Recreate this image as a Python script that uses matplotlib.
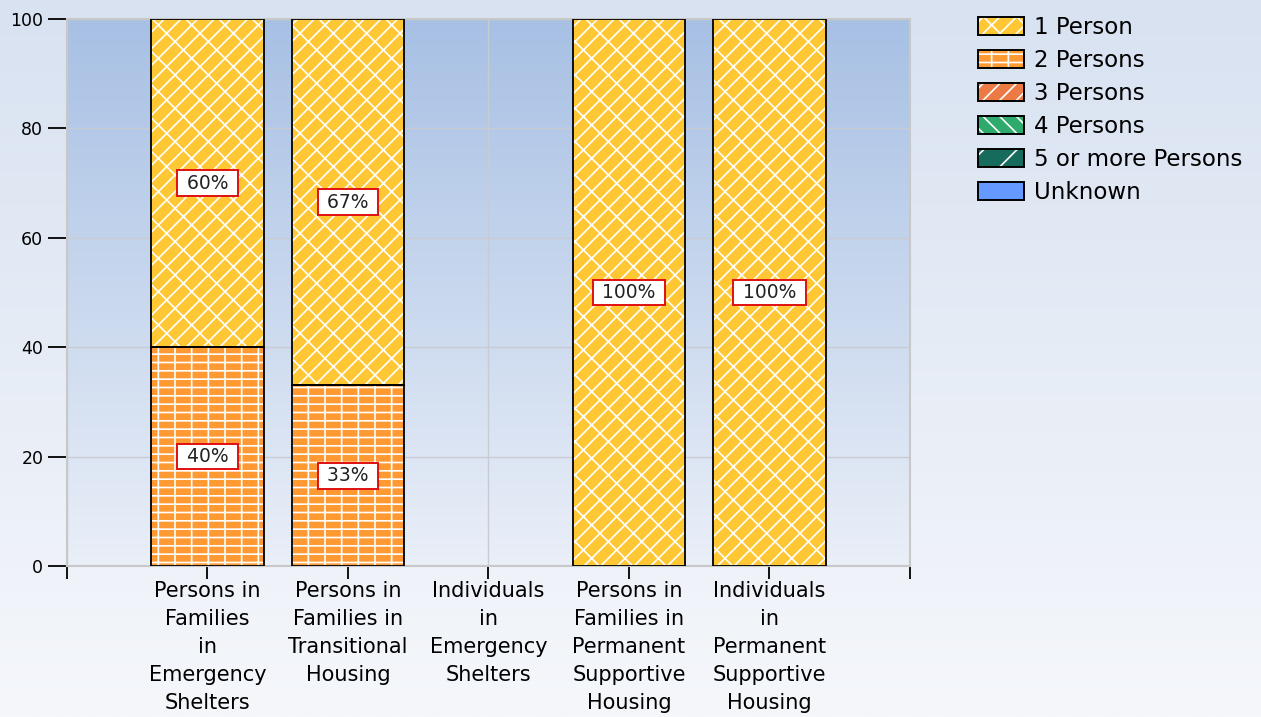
import matplotlib
matplotlib.use("Agg")
import matplotlib.pyplot as plt
import numpy as np
from matplotlib.patches import Patch
from matplotlib.colors import LinearSegmentedColormap

categories = [
    "Persons in\nFamilies\nin\nEmergency\nShelters",
    "Persons in\nFamilies in\nTransitional\nHousing",
    "Individuals\nin\nEmergency\nShelters",
    "Persons in\nFamilies in\nPermanent\nSupportive\nHousing",
    "Individuals\nin\nPermanent\nSupportive\nHousing",
]
series_names = ["1 Person", "2 Persons", "3 Persons", "4 Persons",
                "5 or more Persons", "Unknown"]
# percentage of each household size per group
one_person = [60, 67, 0, 100, 100]
two_persons = [40, 33, 0, 0, 0]
three_persons = [0, 0, 0, 0, 0]
four_persons = [0, 0, 0, 0, 0]
five_plus = [0, 0, 0, 0, 0]
unknown = [0, 0, 0, 0, 0]

colors = ["#ffc733", "#ff9a33", "#ec7a45", "#2daa6c", "#166b5c", "#6699ff"]
hatches = ["//\\", "--|", "//", "\\\\", "/", None]

plt.rcParams["hatch.linewidth"] = 1.2
plt.rcParams["font.family"] = "DejaVu Sans"

fig = plt.figure(figsize=(12.61, 7.17), dpi=100)

# figure background gradient
bg = fig.add_axes([0, 0, 1, 1], zorder=-10)
bg_cmap = LinearSegmentedColormap.from_list("bg", ["#d8e2f1", "#f5f7fb"])
bg.imshow(np.linspace(0, 1, 256).reshape(-1, 1), aspect="auto", cmap=bg_cmap,
          extent=[0, 1, 0, 1])
bg.axis("off")

ax = fig.add_axes([0.0531, 0.2106, 0.6685, 0.7629])

# plot-area gradient, darker blue at the top
pa_cmap = LinearSegmentedColormap.from_list("pa", ["#a7c0e4", "#eaeff8"])
ax.imshow(np.linspace(0, 1, 256).reshape(-1, 1), aspect="auto", cmap=pa_cmap,
          extent=[0, 6, 0, 100], zorder=0)
ax.set_xlim(0, 6)
ax.set_ylim(0, 100)

ax.set_yticks(range(0, 101, 20))
ax.set_xticks(range(0, 7))
ax.set_xticklabels([""] + categories + [""])
ax.grid(True, color="#c8ccd2", lw=1.0, zorder=1)
ax.set_axisbelow(True)
for s in ax.spines.values():
    s.set_color("#c8c8c8")
    s.set_linewidth(1.5)
ax.tick_params(axis="y", direction="out", length=14, width=1.3, color="black",
               labelsize=12.5, pad=3)
ax.tick_params(axis="x", direction="out", length=9, width=1.3, color="black",
               labelsize=15, pad=2)
for lbl in ax.get_xticklabels():
    lbl.set_linespacing(1.5)
    lbl.set_verticalalignment("top")

x = np.arange(1, 6)
width = 0.8
stack = [two_persons, one_person, three_persons, four_persons, five_plus, unknown]
stack_idx = [1, 0, 2, 3, 4, 5]
bottom = np.zeros(5)
for vals, i in zip(stack, stack_idx):
    vals = np.array(vals, dtype=float)
    m = vals > 0
    if m.any():
        ax.bar(x[m], vals[m], width, bottom=bottom[m], color=colors[i],
               edgecolor="white", hatch=hatches[i], linewidth=0, zorder=2)
        ax.bar(x[m], vals[m], width, bottom=bottom[m], fill=False,
               edgecolor="black", linewidth=1.3, zorder=3)
    for xi, v, b in zip(x, vals, bottom):
        if v > 0:
            ax.text(xi, b + v / 2, f" {v:.0f}% ", ha="center", va="center",
                    fontsize=13.5, color="#222222", zorder=4,
                    bbox=dict(boxstyle="square,pad=0.18", fc="white",
                              ec="#e01010", lw=1.4))
    bottom += vals

handles = []
for c, h in zip(colors, hatches):
    handles.append((Patch(facecolor=c, edgecolor="white", hatch=h, lw=0),
                    Patch(fill=False, edgecolor="black", lw=1.4)))
leg = fig.legend(handles, series_names, loc="upper left",
                 bbox_to_anchor=(0.759, 1.007), frameon=False, fontsize=16.5,
                 handlelength=2.0, handleheight=0.85, labelspacing=0.44,
                 handletextpad=0.45)

fig.savefig("out.png", dpi=100)
